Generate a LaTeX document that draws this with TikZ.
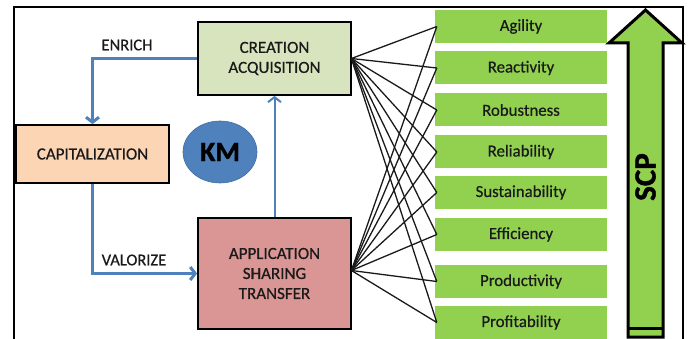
\documentclass[tikz,border=0pt]{standalone}
\usepackage{fontspec}
\setmainfont{Carlito}[FakeBold=1.2]
\newfontfamily\boldish{Carlito}[FakeBold=0.6]
\usetikzlibrary{arrows.meta,shapes.geometric}
\definecolor{cgreen}{HTML}{D7E4BD}
\definecolor{cpeach}{HTML}{FCD5B5}
\definecolor{cred}{HTML}{D99694}
\definecolor{cblue}{HTML}{4F81BD}
\definecolor{lgreen}{HTML}{92D050}
\definecolor{ink}{HTML}{1A1A1A}
\begin{document}
\begin{tikzpicture}[x=1pt,y=-1pt,
  box/.style={draw=black, line width=1.8pt, inner sep=0pt, text=ink,
    font=\boldish\fontsize{17}{20}\selectfont, align=center},
  item/.style={fill=lgreen, minimum width=172pt, minimum height=33pt,
    inner sep=0pt, text=ink, font=\boldish\fontsize{16.8}{18}\selectfont},
  flow/.style={draw=cblue, line width=3pt,
    -{Straight Barb[length=5pt,width=13pt]}},
  link/.style={draw=ink, line width=1.3pt},
  lab/.style={text=ink, font=\boldish\fontsize{16.5}{18}\selectfont, inner sep=0pt}]
\useasboundingbox (0,0) rectangle (690,339);
\draw[line width=2pt] (14,340) -- (14,7) -- (683,7) -- (683,340);

\node[box, fill=cgreen, minimum width=153pt, minimum height=73pt] (cre) at (274.5,58.5) {CREATION\\ACQUISITION};
\node[box, fill=cpeach, minimum width=153pt, minimum height=58pt] (cap) at (92.5,154) {CAPITALIZATION};
\node[box, fill=cred, minimum width=153pt, minimum height=111pt] (app) at (274.5,273.5) {APPLICATION\\SHARING\\TRANSFER};
\node[ellipse, fill=cblue, draw=cblue!85!black, line width=0.6pt, minimum width=74pt, minimum height=62pt,
  text=black, font=\bfseries\fontsize{28}{28}\selectfont] (km) at (220,152) {KM};

\node[item] (g1) at (521,26.5) {Agility};
\node[item] (g2) at (521,68) {Reactivity};
\node[item] (g3) at (521,110) {Robustness};
\node[item] (g4) at (521,152) {Reliability};
\node[item] (g5) at (521,192.5) {Sustainability};
\node[item] (g6) at (521,234.5) {Efficiency};
\node[item] (g7) at (521,281.5) {Productivity};
\node[item] (g8) at (521,322.5) {Profitability};

\coordinate (ce) at ([xshift=-0.5pt]cre.east);
\coordinate (ae) at ([xshift=-0.5pt,yshift=3pt]app.east);
\foreach \i in {1,...,8} {
  \draw[link] (ce) -- ([xshift=2pt]g\i.west);
  \draw[link] (ae) -- ([xshift=2pt]g\i.west);
}

\draw[flow] (cre.west) -| (cap.north);
\node[lab] (enrich) at (127,45) {ENRICH};
\draw[flow] (cap.south) |- (app.west);
\node[lab] (valorize) at (134,260) {VALORIZE};
\draw[flow, line width=2pt] (app.north) -- (cre.south);

\draw[line width=3pt, fill=lgreen, line join=miter]
  (628,337) -- (628,43) -- (609,43) -- (645.5,10) -- (682,43) -- (663,43) -- (663,337) -- cycle;
\draw[line width=3pt] (628,328) -- (663,328);
\node[rotate=90, text=black, font=\bfseries\fontsize{31}{31}\selectfont] (scp) at (645.5,177) {SCP};
\end{tikzpicture}
\end{document}
